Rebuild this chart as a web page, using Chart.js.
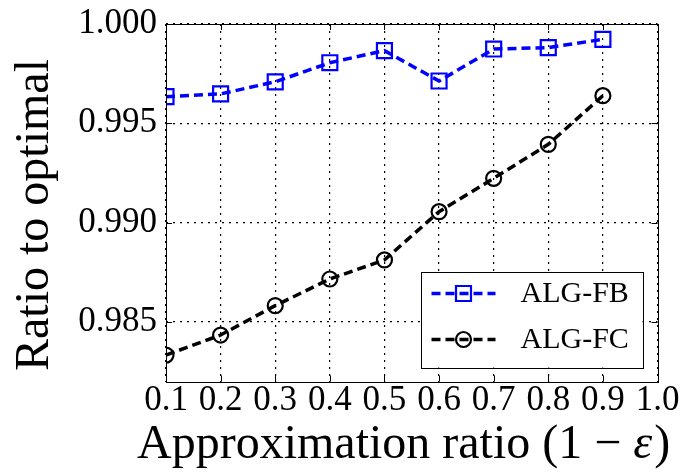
<!DOCTYPE html>
<html><head><meta charset="utf-8">
<script src="https://cdn.jsdelivr.net/npm/chart.js@4.4.1/dist/chart.umd.min.js"></script>
<style>html,body{margin:0;padding:0;background:#fff;} canvas{display:block;}</style>
</head><body>
<canvas id="c" width="691" height="472"></canvas>
<script>
// ---- data ----
const xValues = [0.1, 0.2, 0.3, 0.4, 0.5, 0.6, 0.7, 0.8, 0.9];
const fbValues = [0.99634, 0.99648, 0.99709, 0.99805, 0.99866, 0.99713, 0.99874, 0.99881, 0.99923];
const fcValues = [0.98333, 0.98434, 0.98582, 0.98716, 0.98812, 0.99055, 0.99223, 0.99394, 0.99639];
const xTickValues = [0.1, 0.2, 0.3, 0.4, 0.5, 0.6, 0.7, 0.8, 0.9, 1.0];
const yTickValues = [0.985, 0.990, 0.995, 1.000];
const seriesNames = ['ALG-FB', 'ALG-FC'];
const xTitleMain = 'Approximation ratio (1 \u2212 ';
const xTitleSym = '\u03B5';
const xTitleEnd = ')';
const yTitle = 'Ratio to optimal';

const FONT = '"Liberation Serif","Times New Roman",Times,serif';

const toPts = (vals) => vals.map((v, i) => ({x: xValues[i], y: v}));

const framePlugin = {
  id: 'frame',
  afterDatasetsDraw(chart) {
    const {ctx, chartArea: a, scales} = chart;
    ctx.save();
    ctx.strokeStyle = '#000';
    ctx.lineWidth = 1;
    ctx.setLineDash([]);
    const L = 6;
    ctx.beginPath();
    xTickValues.forEach(v => {
      const px = Math.round(scales.x.getPixelForValue(v)) + 0.5;
      ctx.moveTo(px, a.bottom); ctx.lineTo(px, a.bottom - L);
      ctx.moveTo(px, a.top); ctx.lineTo(px, a.top + L);
    });
    yTickValues.forEach(v => {
      const py = Math.round(scales.y.getPixelForValue(v)) + 0.5;
      ctx.moveTo(a.left, py); ctx.lineTo(a.left + L, py);
      ctx.moveTo(a.right, py); ctx.lineTo(a.right - L, py);
    });
    ctx.stroke();
    ctx.strokeRect(Math.round(a.left) + 0.5, Math.round(a.top) + 0.5,
                   Math.round(a.right - a.left), Math.round(a.bottom - a.top));
    ctx.restore();
  },
  afterDraw(chart) {
    const {ctx, chartArea: a} = chart;
    ctx.save();
    ctx.fillStyle = '#000';
    ctx.font = '48px ' + FONT;
    ctx.translate(48, 215);
    ctx.rotate(-Math.PI / 2);
    ctx.textAlign = 'center';
    ctx.textBaseline = 'alphabetic';
    ctx.fillText(yTitle, 0, 0);
    ctx.restore();

    ctx.save();
    ctx.fillStyle = '#000';
    ctx.textBaseline = 'alphabetic';
    ctx.textAlign = 'left';
    let x = 137;
    const y = 458;
    ctx.font = '48px ' + FONT;
    ctx.fillText(xTitleMain, x, y);
    x += ctx.measureText(xTitleMain).width;
    ctx.font = 'italic 48px ' + FONT;
    ctx.fillText(xTitleSym, x, y);
    x += ctx.measureText(xTitleSym).width + 2;
    ctx.font = '48px ' + FONT;
    ctx.fillText(xTitleEnd, x, y);
    ctx.restore();

    // legend
    ctx.save();
    const bw = 222, bh = 96;
    const bx = a.right - 15 - bw, by = a.bottom - 14 - bh;
    ctx.fillStyle = '#fff';
    ctx.fillRect(bx, by, bw, bh);
    ctx.strokeStyle = '#000';
    ctx.lineWidth = 1;
    ctx.strokeRect(Math.round(bx) + 0.5, Math.round(by) + 0.5, bw, bh);
    chart.data.datasets.forEach((ds, i) => {
      const ry = by + 22 + i * 46;
      ctx.strokeStyle = ds.borderColor;
      ctx.lineWidth = ds.borderWidth;
      ctx.setLineDash(ds.borderDash);
      ctx.beginPath();
      ctx.moveTo(bx + 11, ry); ctx.lineTo(bx + 75, ry);
      ctx.stroke();
      ctx.setLineDash([]);
      ctx.fillStyle = 'rgba(0,0,0,0)';
      ctx.strokeStyle = ds.borderColor;
      ctx.lineWidth = ds.pointBorderWidth;
      Chart.helpers.drawPoint(ctx, {
        pointStyle: ds.pointStyle, radius: ds.pointRadius, rotation: 0,
        borderWidth: ds.pointBorderWidth
      }, bx + 43, ry);
      ctx.fillStyle = '#000';
      ctx.font = '30px ' + FONT;
      ctx.textAlign = 'left';
      ctx.textBaseline = 'middle';
      ctx.fillText(ds.label, bx + 100, ry + 1);
    });
    ctx.restore();
  }
};

new Chart(document.getElementById('c'), {
  type: 'line',
  data: {
    datasets: [
      {
        label: seriesNames[0],
        data: toPts(fbValues),
        borderColor: '#0000ff',
        borderWidth: 3.5,
        borderDash: [9, 5],
        pointStyle: 'rect',
        pointRadius: 10.6,
        pointBorderWidth: 2.2,
        pointBorderColor: '#0000ff',
        pointBackgroundColor: 'rgba(0,0,0,0)',
        fill: false,
        tension: 0
      },
      {
        label: seriesNames[1],
        data: toPts(fcValues),
        borderColor: '#000000',
        borderWidth: 3.5,
        borderDash: [9, 5],
        pointStyle: 'circle',
        pointRadius: 7.5,
        pointBorderWidth: 2.2,
        pointBorderColor: '#000000',
        pointBackgroundColor: 'rgba(0,0,0,0)',
        fill: false,
        tension: 0
      }
    ]
  },
  options: {
    responsive: false,
    animation: false,
    devicePixelRatio: 1,
    layout: { padding: { top: 24, right: 33.5, left: 0, bottom: 0 } },
    plugins: { legend: { display: false }, tooltip: { enabled: false } },
    scales: {
      x: {
        type: 'linear',
        min: 0.1, max: 1.0,
        afterBuildTicks: (s) => { s.ticks = xTickValues.map(v => ({value: v})); },
        afterFit: (s) => { s.height = 90.5; s.paddingLeft = 0; s.paddingRight = 0; },
        ticks: {
          autoSkip: false, maxRotation: 0, minRotation: 0,
          padding: -2, color: '#000',
          font: { family: FONT, size: 35 },
          callback: (v) => Number(v).toFixed(1)
        },
        grid: { color: '#000', lineWidth: 1.2, drawTicks: false },
        border: { display: false, dash: [2, 5] }
      },
      y: {
        type: 'linear',
        min: 0.982, max: 1.0,
        afterBuildTicks: (s) => { s.ticks = yTickValues.map(v => ({value: v})); },
        afterFit: (s) => { s.width = 166; s.paddingTop = 0; s.paddingBottom = 0; },
        ticks: {
          padding: 9, color: '#000',
          font: { family: FONT, size: 35 },
          callback: (v) => Number(v).toFixed(3)
        },
        grid: { color: '#000', lineWidth: 1.2, drawTicks: false },
        border: { display: false, dash: [2, 5] }
      }
    }
  },
  plugins: [framePlugin]
});
</script>
</body></html>
